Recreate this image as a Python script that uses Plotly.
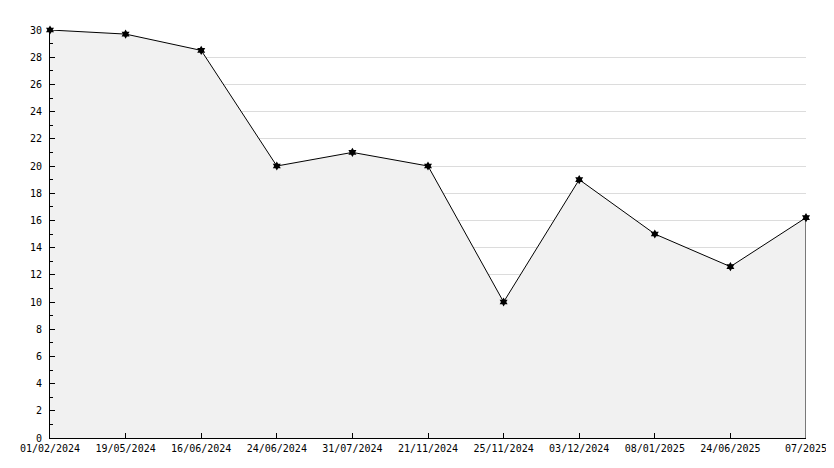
import plotly.graph_objects as go

dates = ["01/02/2024", "19/05/2024", "16/06/2024", "24/06/2024", "31/07/2024",
         "21/11/2024", "25/11/2024", "03/12/2024", "08/01/2025", "24/06/2025", "07/2025"]
values = [30, 29.7, 28.5, 20, 21, 20, 10, 19, 15, 12.6, 16.2]
y_ticks = list(range(0, 31, 2))

idx = list(range(len(dates)))
font = dict(family="DejaVu Sans Mono", size=10, color="#000000")

fig = go.Figure()
fig.add_trace(go.Scatter(
    x=idx, y=values, mode="lines+markers",
    line=dict(color="#000000", width=1),
    fill="tozeroy", fillcolor="#f1f1f1",
    marker=dict(symbol="hexagram", size=7, color="#000000"),
    hoverinfo="skip", showlegend=False, cliponaxis=False,
))
# right edge of the filled area
fig.add_trace(go.Scatter(
    x=[idx[-1], idx[-1]], y=[0, values[-1]], mode="lines",
    line=dict(color="#000000", width=1), hoverinfo="skip", showlegend=False,
))

fig.update_layout(
    width=834, height=468,
    margin=dict(l=42, r=36, t=22, b=38, autoexpand=False),
    paper_bgcolor="#ffffff", plot_bgcolor="#ffffff",
    font=font,
    xaxis=dict(
        range=[0, len(dates) - 1], tickvals=idx, ticktext=dates,
        showgrid=False, zeroline=False, automargin=False,
        showline=True, linecolor="#000000", linewidth=1,
        ticks="inside", ticklen=5, tickcolor="#000000", tickfont=font,
        ticklabelstandoff=1,
    ),
    yaxis=dict(
        range=[0, 30], tickvals=y_ticks, automargin=False,
        showgrid=True, gridcolor="#dcdcdc", gridwidth=1, zeroline=False,
        showline=True, linecolor="#000000", linewidth=1,
        ticks="inside", ticklen=5, tickcolor="#000000", tickfont=font,
        ticklabelstandoff=5,
        minor=dict(dtick=1, ticks="inside", ticklen=3, tickcolor="#000000", showgrid=False),
    ),
)

fig.write_html("out.html")
